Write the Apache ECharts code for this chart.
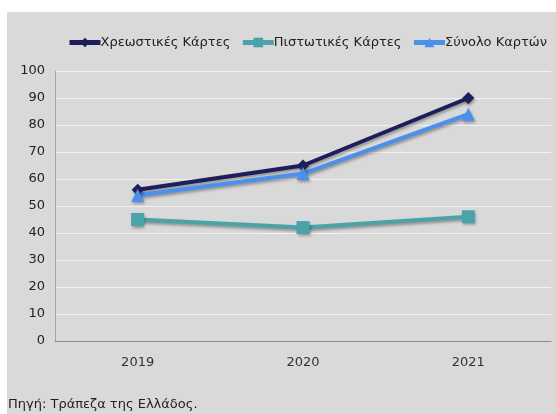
<!DOCTYPE html>
<html><head><meta charset="utf-8">
<script src="https://cdn.jsdelivr.net/npm/echarts@6/dist/echarts.min.js"></script>
<style>html,body{margin:0;padding:0;background:#fff}#c{width:556px;height:414px}</style>
</head><body><div id="c"></div>
<script>
const categories = ['2019', '2020', '2021'];
const debitCards = [56, 65, 90];
const creditCards = [45, 42, 46];
const totalCards = [54, 62, 84];
const seriesNames = ['Χρεωστικές Κάρτες', 'Πιστωτικές Κάρτες', 'Σύνολο Καρτών'];
const sourceText = 'Πηγή: Τράπεζα της Ελλάδος.';

const font = 'DejaVu Sans';
const chart = echarts.init(document.getElementById('c'), null, {renderer: 'canvas'});
function mk(name, data, color, symbol, size) {
  return {
    name, type: 'line', data, symbol, symbolSize: size, color,
    lineStyle: {width: 4, color, shadowColor: 'rgba(0,0,0,0.35)', shadowBlur: 3, shadowOffsetX: 1, shadowOffsetY: 2},
    itemStyle: {color, shadowColor: 'rgba(0,0,0,0.35)', shadowBlur: 3, shadowOffsetX: 1, shadowOffsetY: 2},
    z: 3
  };
}
chart.setOption({
  backgroundColor: '#ffffff',
  animation: false,
  graphic: [
    {type: 'rect', shape: {x: 7, y: 12, width: 549, height: 402}, style: {fill: '#d9d9d9'}, z: -10},
    {type: 'text', left: 8, top: 398, style: {text: sourceText, font: '13px "DejaVu Sans"', fill: '#222'}}
  ],
  legend: {
    top: 31, left: 62,
    itemWidth: 31, itemHeight: 12, itemGap: 10,
    lineStyle: {width: 5, shadowBlur: 0, shadowOffsetX: 0, shadowOffsetY: 0},
    itemStyle: {shadowBlur: 0, shadowOffsetX: 0, shadowOffsetY: 0},
    textStyle: {fontFamily: font, fontSize: 13, color: '#222', padding: [0, 0, 0, -5]},
    data: seriesNames
  },
  grid: {left: 55, right: 5, top: 71, bottom: 73, containLabel: false},
  xAxis: {
    type: 'category', data: categories, boundaryGap: true,
    axisLine: {lineStyle: {color: '#8c8c8c', width: 1}},
    axisTick: {show: false},
    axisLabel: {fontFamily: font, fontSize: 13, color: '#333', margin: 15}
  },
  yAxis: {
    type: 'value', min: 0, max: 100, interval: 10,
    axisLine: {show: true, lineStyle: {color: '#a6a6a6'}},
    axisTick: {show: false},
    splitLine: {lineStyle: {color: '#f2f2f2', width: 1}},
    axisLabel: {fontFamily: font, fontSize: 13, color: '#222', margin: 10}
  },
  series: [
    mk(seriesNames[0], debitCards, '#1e1e5a', 'diamond', 12),
    mk(seriesNames[1], creditCards, '#4aa3a8', 'rect', 13),
    mk(seriesNames[2], totalCards, '#4a90ec', 'triangle', 13)
  ]
});
</script></body></html>
